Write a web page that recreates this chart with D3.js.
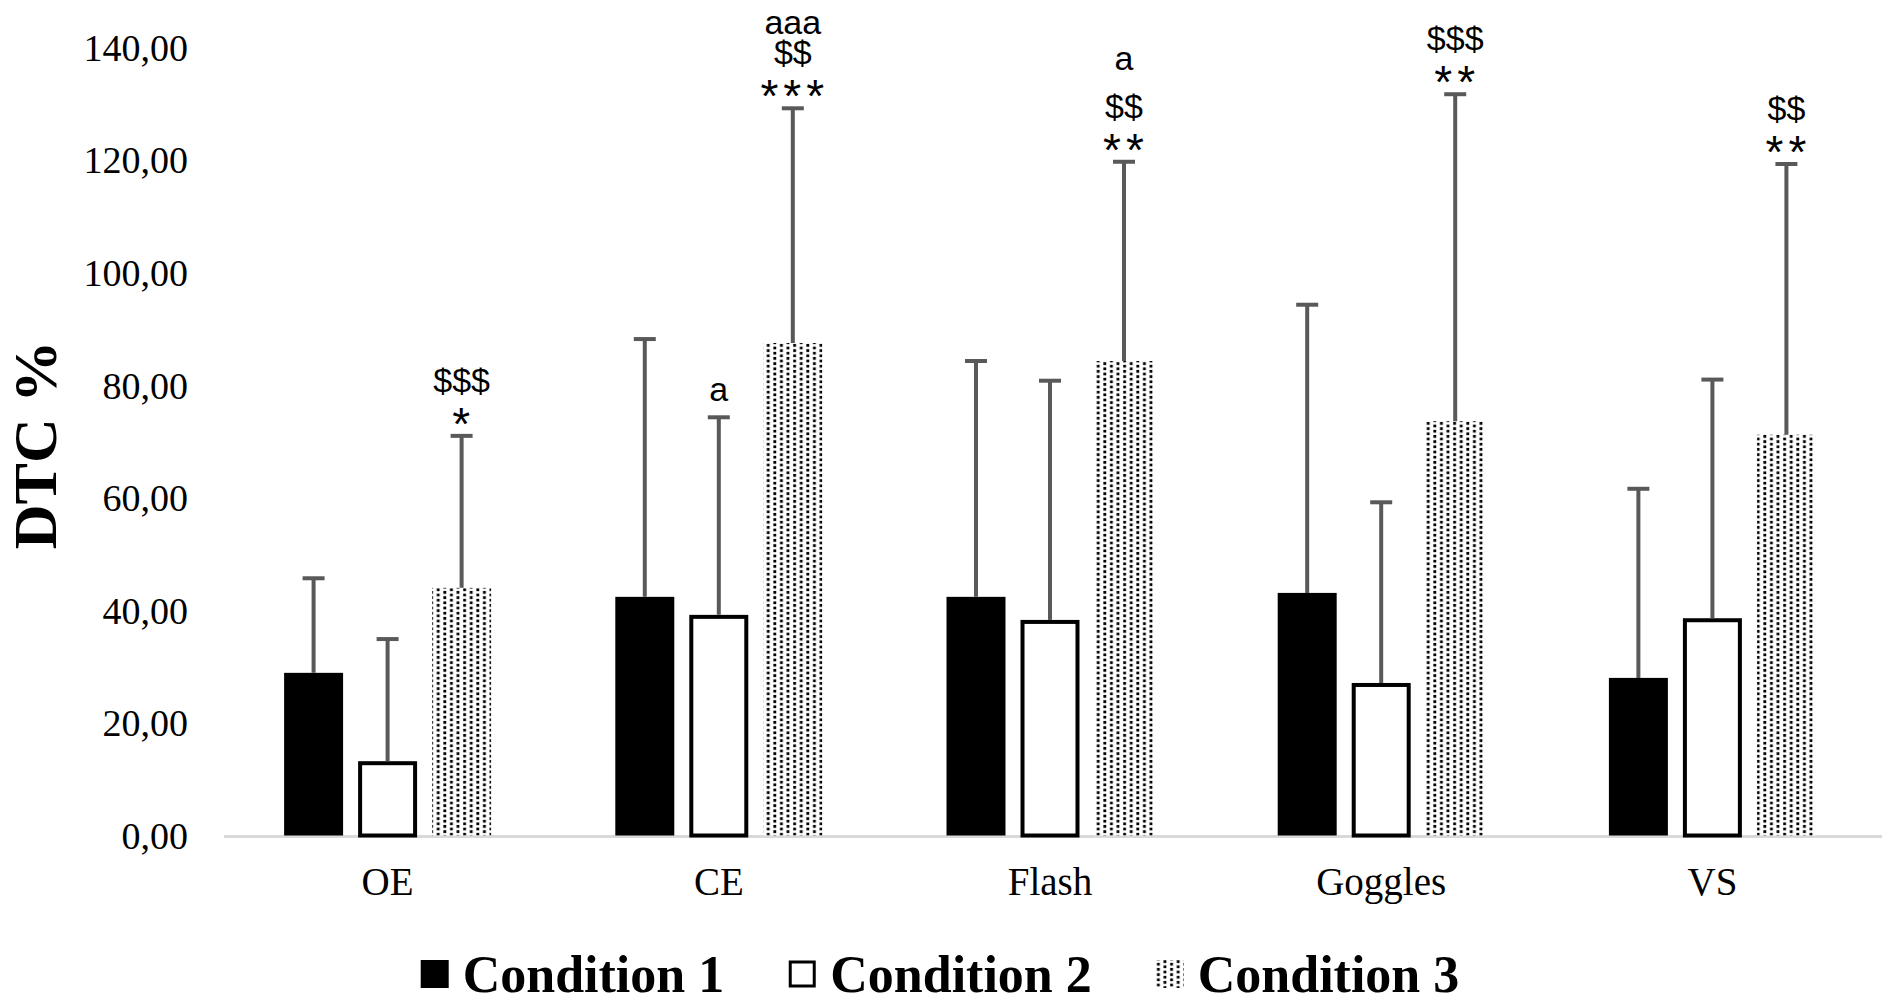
<!DOCTYPE html>
<html>
<head>
<meta charset="utf-8">
<script src="https://cdn.jsdelivr.net/npm/d3@7"></script>
<style>
  body { margin: 0; background: #fff; }
</style>
</head>
<body>
<div id="chart"></div>
<script>
// categories and series
const categories = ["OE", "CE", "Flash", "Goggles", "VS"];
const seriesNames = ["Condition 1", "Condition 2", "Condition 3"];

// mean DTC % per condition (one value per category)
const cond1Mean = [28.9, 42.4, 42.4, 43.1, 28.0];
const cond2Mean = [13.2, 39.2, 38.3, 27.1, 38.6];
const cond3Mean = [44.0, 87.5, 84.3, 73.6, 71.2];

// standard deviations (upper error bars)
const cond1Sd = [16.8, 45.8, 41.9, 51.2, 33.6];
const cond2Sd = [21.7, 35.1, 42.5, 32.1, 42.4];
const cond3Sd = [27.0, 41.7, 35.4, 58.1, 48.1];

// significance marks above the error bars, listed bottom to top
const cond1Marks = [[], [], [], [], []];
const cond2Marks = [[], ["a"], [], [], []];
const cond3Marks = [["*", "$$$"], ["***", "$$", "aaa"], ["**", "$$", "a"], ["**", "$$$"], ["**", "$$"]];

// y axis ticks
const yTicks = [0, 20, 40, 60, 80, 100, 120, 140];

// svg set up
let svgWidth = 1890;
let svgHeight = 1005;

let svg = d3.select("#chart")
    .append("svg")
    .attr("width", svgWidth)
    .attr("height", svgHeight)
    .style("font-family", "'Liberation Serif', 'Times New Roman', serif");

// dotted fill for condition 3 (staggered columns of small square dots)
let defs = svg.append("defs");
let pattern = defs.append("pattern")
    .attr("id", "dots")
    .attr("patternUnits", "userSpaceOnUse")
    .attr("width", 13.2)
    .attr("height", 5.2);
pattern.append("rect").attr("width", 13.2).attr("height", 5.2).attr("fill", "#fff");
pattern.append("rect").attr("x", 1.2).attr("y", 0.8).attr("width", 2.8).attr("height", 2.8).attr("fill", "#000");
pattern.append("rect").attr("x", 7.8).attr("y", 3.4).attr("width", 2.8).attr("height", 2.8).attr("fill", "#000");
pattern.append("rect").attr("x", 7.8).attr("y", -1.8).attr("width", 2.8).attr("height", 2.8).attr("fill", "#000");

// build rows for the bars
let seriesData = [
    { name: seriesNames[0], mean: cond1Mean, sd: cond1Sd, marks: cond1Marks, fill: "#000", stroke: "none" },
    { name: seriesNames[1], mean: cond2Mean, sd: cond2Sd, marks: cond2Marks, fill: "#fff", stroke: "#000" },
    { name: seriesNames[2], mean: cond3Mean, sd: cond3Sd, marks: cond3Marks, fill: "url(#dots)", stroke: "none" }
];
let rows = [];
categories.forEach((cat, i) => {
    seriesData.forEach(s => {
        rows.push({ cat: cat, series: s.name, mean: s.mean[i], sd: s.sd[i], marks: s.marks[i], fill: s.fill, stroke: s.stroke });
    });
});

// scales
let x0 = d3.scaleBand()
    .domain(categories)
    .range([222, 1878])
    .paddingInner(0.375)
    .paddingOuter(0.1875);
let x1 = d3.scaleBand()
    .domain(seriesNames)
    .range([0, x0.bandwidth()])
    .paddingInner(0.203);
let y = d3.scaleLinear()
    .domain([0, 140])
    .range([835.5, 47.5]);

// y axis (labels only)
let yAxis = d3.axisLeft(y)
    .tickValues(yTicks)
    .tickSize(0)
    .tickPadding(0)
    .tickFormat(d => d3.format(".2f")(d).replace(".", ","));
let yAxisG = svg.append("g")
    .attr("transform", "translate(188,0)")
    .call(yAxis);
yAxisG.select(".domain").remove();
yAxisG.selectAll("text")
    .attr("font-family", "'Liberation Serif', 'Times New Roman', serif")
    .attr("font-size", 38)
    .attr("fill", "#000")
    .attr("dy", "0.34em");

// x axis baseline
svg.append("line")
    .attr("x1", 224)
    .attr("x2", 1882)
    .attr("y1", y(0) + 1)
    .attr("y2", y(0) + 1)
    .attr("stroke", "#d9d9d9")
    .attr("stroke-width", 3);

// x axis labels
let xAxis = d3.axisBottom(x0).tickSize(0).tickPadding(0);
let xAxisG = svg.append("g")
    .attr("transform", "translate(0,895)")
    .call(xAxis);
xAxisG.select(".domain").remove();
xAxisG.selectAll("text")
    .attr("font-family", "'Liberation Serif', 'Times New Roman', serif")
    .attr("font-size", 39)
    .attr("fill", "#000")
    .attr("dy", 0);

// bars
let barX = d => x0(d.cat) + x1(d.series);
let bw = x1.bandwidth();

let bars = svg.append("g").selectAll("g")
    .data(rows)
    .enter()
    .append("g");

bars.append("rect")
    .attr("x", d => d.stroke === "none" ? barX(d) : barX(d) + 2)
    .attr("y", d => d.stroke === "none" ? y(d.mean) : y(d.mean) + 2)
    .attr("width", d => d.stroke === "none" ? bw : bw - 4)
    .attr("height", d => d.stroke === "none" ? y(0) - y(d.mean) : y(0) - y(d.mean) - 2)
    .attr("fill", d => d.fill)
    .attr("stroke", d => d.stroke)
    .attr("stroke-width", 4);

// error bars
let errColor = "#595959";
bars.append("line")
    .attr("x1", d => barX(d) + bw / 2)
    .attr("x2", d => barX(d) + bw / 2)
    .attr("y1", d => y(d.mean))
    .attr("y2", d => y(d.mean + d.sd))
    .attr("stroke", errColor)
    .attr("stroke-width", 4);
bars.append("line")
    .attr("x1", d => barX(d) + bw / 2 - 11)
    .attr("x2", d => barX(d) + bw / 2 + 11)
    .attr("y1", d => y(d.mean + d.sd))
    .attr("y2", d => y(d.mean + d.sd))
    .attr("stroke", errColor)
    .attr("stroke-width", 4);

// significance marks (stacked upward from the cap, tighter when near the top)
bars.each(function(d) {
    let g = d3.select(this);
    let cap = y(d.mean + d.sd);
    let cx = barX(d) + bw / 2;
    let step = Math.min(48, cap - 44 - 34);
    d.marks.forEach((m, i) => {
        let star = m[0] === "*";
        let base;
        if (i === 0) {
            base = star ? cap + 4 : cap - 16;
        } else {
            base = cap - 44 - step * (i - 1);
        }
        g.append("text")
            .attr("x", cx + (star ? 2 : 0))
            .attr("y", base)
            .attr("text-anchor", "middle")
            .attr("font-family", "'Liberation Sans', Arial, sans-serif")
            .attr("font-size", star ? 46 : 34)
            .attr("letter-spacing", star ? 5 : 0)
            .attr("fill", "#000")
            .text(m);
    });
});

// y axis title
svg.append("text")
    .attr("transform", "translate(56,445) rotate(-90)")
    .attr("text-anchor", "middle")
    .attr("font-size", 62)
    .attr("font-weight", "bold")
    .attr("fill", "#000")
    .text("DTC %");

// legend
let legend = svg.append("g");
let legendItems = legend.selectAll("g")
    .data(seriesData)
    .enter()
    .append("g");
legendItems.append("rect")
    .attr("y", d => d.stroke === "none" ? 960 : 962)
    .attr("width", d => d.stroke === "none" ? 28 : 24)
    .attr("height", d => d.stroke === "none" ? 28 : 24)
    .attr("x", d => d.stroke === "none" ? 0 : 2)
    .attr("fill", d => d.fill)
    .attr("stroke", d => d.stroke)
    .attr("stroke-width", 3);
legendItems.append("text")
    .attr("x", 42)
    .attr("y", 992)
    .attr("font-size", 52)
    .attr("font-weight", "bold")
    .attr("fill", "#000")
    .text(d => d.name);

// place legend entries centred under the chart
let widths = [];
legendItems.each(function() {
    widths.push(42 + d3.select(this).select("text").node().getComputedTextLength());
});
let gap = 64;
let total = d3.sum(widths) + gap * (widths.length - 1);
let startX = 940 - total / 2;
legendItems.attr("transform", (d, i) => {
    let off = startX + d3.sum(widths.slice(0, i)) + gap * i;
    return `translate(${off},0)`;
});
</script>
</body>
</html>
